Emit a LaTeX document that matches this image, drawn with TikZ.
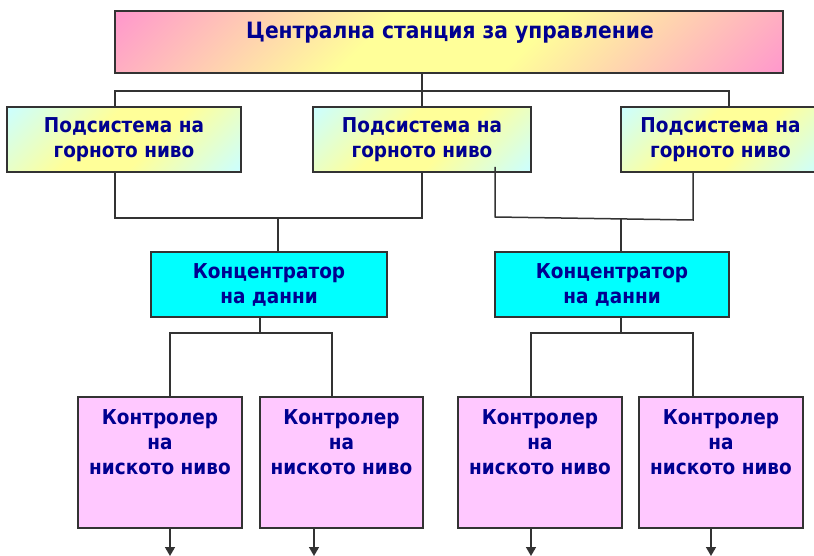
\documentclass[tikz,border=0pt]{standalone}
\usepackage{fontspec}
\setmainfont{DejaVu Sans Condensed}
\usetikzlibrary{arrows.meta,calc}

\definecolor{ink}{HTML}{000090}
\definecolor{edge}{HTML}{333333}
\definecolor{pk}{HTML}{FF99CC}
\definecolor{yl}{HTML}{FFFF99}
\definecolor{lc}{HTML}{CCFFFF}
\definecolor{cy}{HTML}{00FFFF}
\definecolor{vi}{HTML}{FFC8FF}

% diagonal gradients: coloured corners, yellow band through the middle
\pgfdeclarehorizontalshading{pinkyellow}{100bp}{color(0bp)=(pk); color(15bp)=(pk); color(42bp)=(yl); color(58bp)=(yl); color(85bp)=(pk); color(100bp)=(pk)}
\pgfdeclarehorizontalshading{cyanyellow}{100bp}{color(0bp)=(lc); color(15bp)=(lc); color(42bp)=(yl); color(58bp)=(yl); color(85bp)=(lc); color(100bp)=(lc)}

\begin{document}
\begin{tikzpicture}[x=1pt, y=-1pt,
  boxline/.style={draw=edge, line width=1.5pt},
  lbl/.style={text=ink, font=\bfseries\fontsize{20.5}{25}\selectfont, align=center, inner sep=0pt},
  topbox/.style={boxline, shading=pinkyellow, shading angle=-45, minimum width=668pt, minimum height=62pt, inner sep=0pt},
  subbox/.style={boxline, lbl, shading=cyanyellow, shading angle=-45, minimum height=65pt},
  hubbox/.style={boxline, lbl, fill=cy, minimum height=65pt},
  ctrlbox/.style={boxline, fill=vi, minimum height=131pt, inner sep=0pt},
  wire/.style={draw=edge, line width=1.5pt},
  outwire/.style={wire, -{Triangle[width=10pt,length=9pt]}}]

\useasboundingbox (0,0) rectangle (814,556);
\clip (0,0) rectangle (814,556);

% central station
\node[topbox] (top) at (449,42) {};
\node[lbl, font=\bfseries\fontsize{22.5}{25}\selectfont, anchor=north] (toptext) at (450,21.5) {Централна станция за управление};

% upper-level subsystems
\node[subbox, minimum width=234pt] (s1) at (124,139.5) {Подсистема на\\горното ниво};
\node[subbox, minimum width=218pt] (s2) at (422,139.5) {Подсистема на\\горното ниво};
\node[subbox, minimum width=199pt] (s3) at (720.5,139.5) {Подсистема на\\горното ниво};

% data concentrators
\node[hubbox, minimum width=236pt] (h1) at (269,284.5) {Концентратор\\на данни};
\node[hubbox, minimum width=234pt] (h2) at (612,284.5) {Концентратор\\на данни};

% low-level controllers
\node[ctrlbox, minimum width=164pt] (c1) at (160,462.5) {};
\node[ctrlbox, minimum width=163pt] (c2) at (341.5,462.5) {};
\node[ctrlbox, minimum width=164pt] (c3) at (540,462.5) {};
\node[ctrlbox, minimum width=164pt] (c4) at (721,462.5) {};
\foreach \c in {c1,c2,c3,c4}
  \node[lbl, anchor=north] (\c t) at ($(\c.north)+(0,13)$) {Контролер\\на\\ниското ниво};

% station to subsystems
\coordinate (a0) at (422,91);
\coordinate (a1) at (115,91);
\coordinate (a3) at (729,91);
\draw[wire] (top.south -| a0) -- (a0);
\draw[wire] (a1 |- s1.north) -- (a1) -- (a3) -- (a3 |- s3.north);
\draw[wire] (a0) -- (a0 |- s2.north);

% subsystems to the first concentrator
\coordinate (b1) at (115,218);
\coordinate (b2) at (422,218);
\coordinate (bj) at (278,218);
\draw[wire] (b1 |- s1.south) -- (b1) -- (b2) -- (b2 |- s2.south);
\draw[wire] (bj) -- (bj |- h1.north);

% subsystems to the second concentrator
\coordinate (d0) at (495,167);
\coordinate (d1) at (495,217);
\coordinate (d2) at (693,220);
\coordinate (dj) at (621,219);
\draw[wire] (d0) -- (d1) -- (d2) -- (d2 |- s3.south);
\draw[wire] (dj) -- (dj |- h2.north);

% concentrators to controllers
\coordinate (e0) at (260,333);
\coordinate (e1) at (170,333);
\coordinate (e2) at (332,333);
\draw[wire] (h1.south -| e0) -- (e0);
\draw[wire] (e1 |- c1.north) -- (e1) -- (e2) -- (e2 |- c2.north);
\coordinate (f0) at (621,333);
\coordinate (f1) at (531,333);
\coordinate (f2) at (693,333);
\draw[wire] (h2.south -| f0) -- (f0);
\draw[wire] (f1 |- c3.north) -- (f1) -- (f2) -- (f2 |- c4.north);

% controller outputs
\coordinate (g1) at (170,556);
\coordinate (g2) at (314,556);
\coordinate (g3) at (531,556);
\coordinate (g4) at (711,556);
\draw[outwire] (c1.south -| g1) -- (g1);
\draw[outwire] (c2.south -| g2) -- (g2);
\draw[outwire] (c3.south -| g3) -- (g3);
\draw[outwire] (c4.south -| g4) -- (g4);
\end{tikzpicture}
\end{document}
